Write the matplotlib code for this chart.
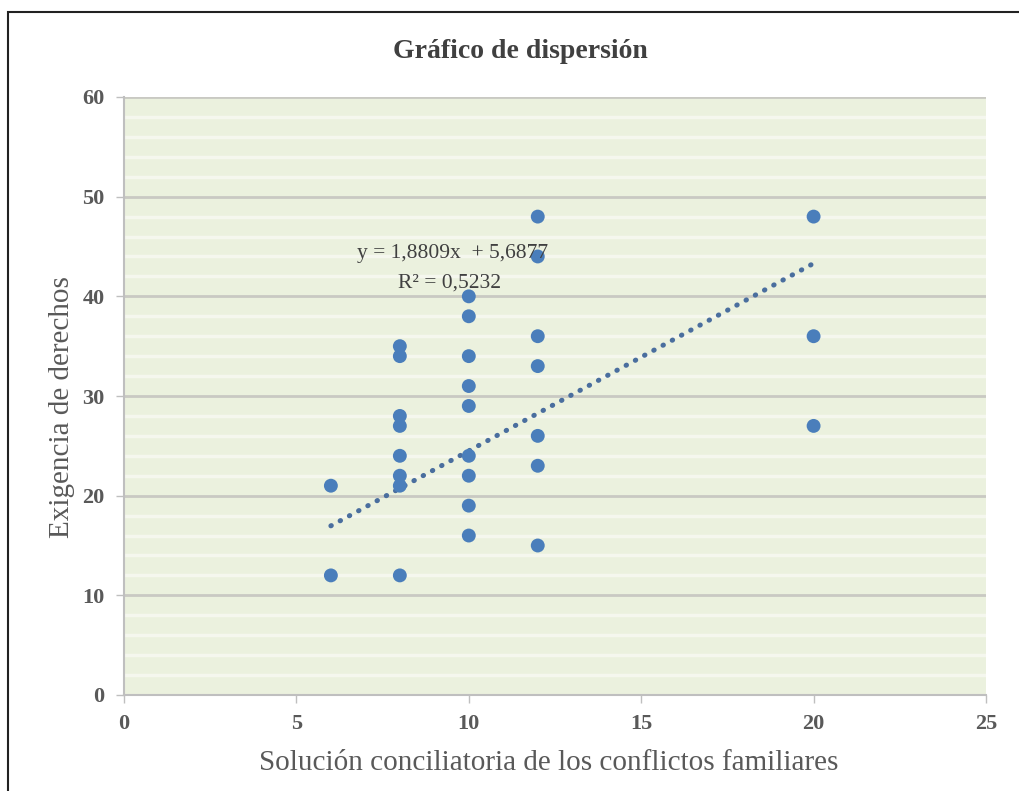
import matplotlib.pyplot as plt
import numpy as np
from matplotlib.patches import Rectangle

# Data
x_vals = [6, 6,
          8, 8, 8, 8, 8, 8, 8, 8,
          10, 10, 10, 10, 10, 10, 10, 10, 10,
          12, 12, 12, 12, 12, 12, 12,
          20, 20, 20]
y_vals = [21, 12,
          35, 34, 28, 27, 24, 22, 21, 12,
          40, 38, 34, 31, 29, 24, 22, 19, 16,
          48, 44, 36, 33, 26, 23, 15,
          48, 36, 27]

# Trend line as printed on the chart
slope = 1.8809
intercept = 5.6877
r2 = 0.5232
trend_x = [6, 20]

x_ticks = [0, 5, 10, 15, 20, 25]
y_ticks = [0, 10, 20, 30, 40, 50, 60]

serif = ['Liberation Serif', 'DejaVu Serif']
txt_col = '#595959'

fig = plt.figure(figsize=(10.19, 7.91), dpi=100)
ax = fig.add_axes([124/1019, 1 - 695/791, (986-124)/1019, (695-97)/791])

ax.set_facecolor('#EBF1DE')
ax.set_xlim(0, 25)
ax.set_ylim(0, 60)

# light stripes every 2 units, grey major lines every 10
for yy in np.arange(2, 60, 2):
    if yy % 10 != 0:
        ax.axhline(yy, color='#F5F7EE', lw=2.5, zorder=0.5)
for yy in y_ticks[1:]:
    ax.axhline(yy, color='#C9C9C3', lw=2, zorder=0.6)

ax.scatter(x_vals, y_vals, s=100, color='#4A7EBB', edgecolors='none', zorder=3)

ty = [slope * t + intercept for t in trend_x]
ax.plot(trend_x, ty, color='#4A6E9E', lw=3.6, linestyle=(0, (0.1, 2.0)),
        dash_capstyle='round', zorder=2)

ax.text(9.54, 44.25, f'y = {slope:.4f}x  + {intercept:.4f}'.replace('.', ','),
        ha='center', va='center', fontsize=15.5, family=serif, color='#404040', zorder=4)
ax.text(9.45, 41.3, f'R² = {r2:.4f}'.replace('.', ','),
        ha='center', va='center', fontsize=15.5, family=serif, color='#404040', zorder=4)

ax.set_xticks(x_ticks)
ax.set_yticks(y_ticks)
ax.tick_params(axis='both', length=6, width=1, color='#BFBFBF', labelcolor=txt_col,
               labelsize=16, pad=8)
for lab in ax.get_xticklabels() + ax.get_yticklabels():
    lab.set_family(serif)
    lab.set_fontweight('bold')

for side in ['top', 'right']:
    ax.spines[side].set_visible(False)
for side in ['left', 'bottom']:
    ax.spines[side].set_color('#BFBFBF')
    ax.spines[side].set_linewidth(1.5)

ax.set_xlabel('Solución conciliatoria de los conflictos familiares', fontsize=21,
              family=serif, color=txt_col, va='center')
ax.xaxis.set_label_coords((549-124)/862, (695-763)/598)
ax.set_ylabel('Exigencia de derechos', fontsize=21, family=serif, color=txt_col, va='center')
ax.yaxis.set_label_coords((62-124)/862, (695-407)/598)

fig.text(520/1019, 1 - 52/791, 'Gráfico de dispersión', ha='center', va='center',
         fontsize=20, fontweight='bold', family=serif, color='#404040')

# outer chart frame (only top and left visible in the crop)
fig.patches.append(Rectangle((8/1019, -0.1), 1.2, 1 - 12/791 + 0.1, transform=fig.transFigure,
                             fill=False, edgecolor='#222222', lw=1.5))

fig.savefig('out.png', dpi=100)
